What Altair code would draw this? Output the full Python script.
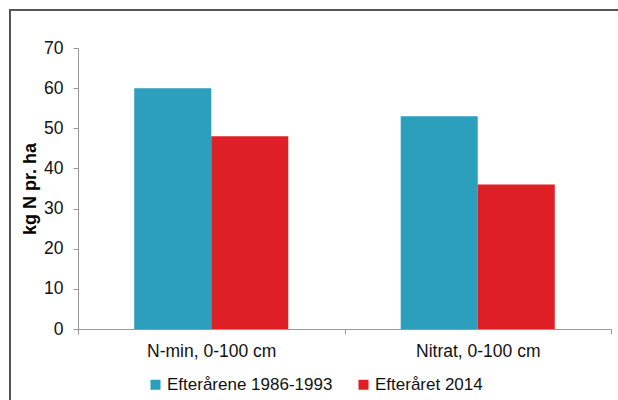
import altair as alt
import pandas as pd

categories = ["N-min, 0-100 cm", "Nitrat, 0-100 cm"]
series = ["Efterårene 1986-1993", "Efteråret 2014"]
values_1986_1993 = [60, 53]
values_2014 = [48, 36]
colors = ["#2B9FBC", "#DF1F26"]

rows = []
for i, c in enumerate(categories):
    rows.append({"kategori": c, "serie": series[0], "v": values_1986_1993[i]})
    rows.append({"kategori": c, "serie": series[1], "v": values_2014[i]})
df = pd.DataFrame(rows)

FONT = "Liberation Sans"
FS = 17.5

bars = alt.Chart(df).mark_bar().encode(
    x=alt.X("kategori:N", sort=categories, title=None,
            scale=alt.Scale(paddingInner=0, paddingOuter=0),
            axis=alt.Axis(labelAngle=0, labelFontSize=FS, labelColor="#111",
                          labelFont=FONT, domainColor="#999", tickColor="#999",
                          tickBand="extent", tickSize=5, labelPadding=8,
                          domainWidth=1)),
    xOffset=alt.XOffset("serie:N", sort=series,
                        scale=alt.Scale(paddingInner=0, paddingOuter=0.73)),
    y=alt.Y("v:Q", title="kg N pr. ha",
            scale=alt.Scale(domain=[0, 70]),
            axis=alt.Axis(values=list(range(0, 71, 10)), grid=False,
                          labelFontSize=FS, labelColor="#111", labelFont=FONT,
                          domainColor="#999", tickColor="#999", tickSize=5,
                          labelPadding=10, titleFont=FONT, titleFontSize=18,
                          titleFontWeight="bold", titleColor="#000",
                          titlePadding=4)),
    color=alt.Color("serie:N", sort=series,
                    scale=alt.Scale(domain=series, range=colors),
                    legend=alt.Legend(title=None, orient="none", direction="horizontal",
                                      legendX=69, legendY=328, symbolType="square",
                                      symbolSize=100, symbolStrokeWidth=0,
                                      labelFontSize=17, labelFont=FONT,
                                      labelColor="#111", columnPadding=22,
                                      labelOffset=3, labelLimit=400)),
)

frame = alt.Chart(pd.DataFrame({"a": [0]})).mark_rect(
    fill=None, stroke="#555", strokeWidth=2, clip=False
).encode(
    x=alt.value(-68), x2=alt.value(700), y=alt.value(-38), y2=alt.value(500)
)

chart = alt.layer(frame, bars).properties(
    width=533, height=281,
    padding={"left": 78, "top": 48, "right": 7, "bottom": 71},
    autosize=alt.AutoSizeParams(type="none"),
    background="white",
).configure_view(stroke=None)

chart.save("out.html", embed_options={"renderer": "svg", "actions": False})
